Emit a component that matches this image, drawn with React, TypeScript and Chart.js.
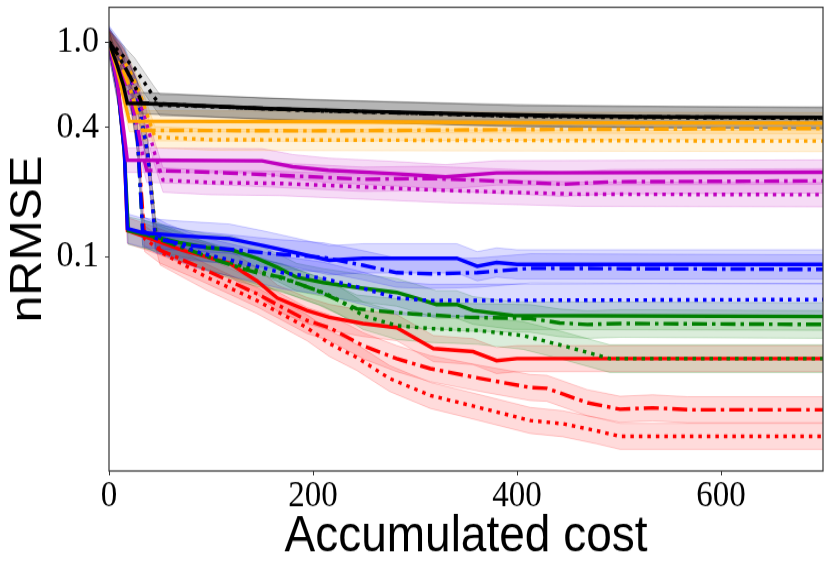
import React, { useEffect, useRef } from 'react';
import { Chart, registerables } from 'chart.js';

Chart.register(...registerables);

// axis ticks
const costTicks = [0, 200, 400, 600];
const nrmseTicks = [0.1, 0.4, 1.0];
const nrmseTickLabels = ['0.1', '0.4', '1.0'];

// [accumulated cost, nRMSE] pairs
const blackSolid = [[0, 1.0], [8, 0.78], [14, 0.63], [18, 0.518], [60, 0.512], [150, 0.49], [250, 0.475], [350, 0.462], [450, 0.452], [550, 0.447], [700, 0.445]];
const blackDashDot = [[0, 1.0], [10, 0.85], [20, 0.7], [27, 0.6], [32, 0.52], [100, 0.5], [200, 0.48], [300, 0.465], [400, 0.452], [700, 0.442]];
const blackDotted = [[0, 1.0], [6, 0.945], [15, 0.848], [25, 0.754], [35, 0.642], [43, 0.564], [50, 0.507], [100, 0.5], [200, 0.478], [300, 0.465], [400, 0.45], [500, 0.445], [700, 0.44]];

const orangeSolid = [[0, 1.0], [8, 0.74], [14, 0.56], [20, 0.427], [200, 0.425], [400, 0.42], [700, 0.418]];
const orangeDashDot = [[0, 1.0], [10, 0.82], [20, 0.62], [27, 0.48], [33, 0.387], [200, 0.385], [400, 0.39], [700, 0.395]];
const orangeDotted = [[0, 1.0], [10, 0.87], [20, 0.74], [30, 0.58], [38, 0.45], [45, 0.36], [100, 0.35], [300, 0.348], [700, 0.345]];

const magentaSolid = [[0, 1.0], [8, 0.65], [14, 0.4], [18, 0.281], [150, 0.279], [180, 0.262], [215, 0.252], [280, 0.243], [330, 0.235], [380, 0.245], [700, 0.247]];
const magentaDashDot = [[0, 1.0], [10, 0.8], [20, 0.58], [28, 0.4], [33, 0.3], [37, 0.252], [100, 0.247], [167, 0.239], [249, 0.229], [315, 0.231], [396, 0.223], [445, 0.217], [494, 0.223], [700, 0.225]];
const magentaDotted = [[0, 1.0], [12, 0.85], [25, 0.62], [35, 0.45], [45, 0.3], [53, 0.227], [100, 0.221], [167, 0.219], [331, 0.203], [462, 0.195], [700, 0.194]];

const blueSolid = [[0, 1.0], [9, 0.59], [15, 0.31], [18, 0.135], [33, 0.129], [69, 0.125], [118, 0.121], [151, 0.1125], [187, 0.103], [216, 0.096], [249, 0.098], [341, 0.098], [361, 0.09], [380, 0.0937], [400, 0.0918], [700, 0.0918]];
const blueDashDot = [[0, 1.0], [12, 0.8], [22, 0.55], [28, 0.35], [33, 0.132], [47, 0.121], [79, 0.1125], [118, 0.108], [160, 0.103], [210, 0.099], [249, 0.091], [282, 0.084], [315, 0.083], [361, 0.084], [413, 0.088], [700, 0.087]];
const blueDotted = [[0, 1.0], [15, 0.8], [28, 0.55], [38, 0.3], [45, 0.128], [57, 0.119], [89, 0.104], [128, 0.094], [170, 0.084], [210, 0.079], [249, 0.071], [282, 0.064], [315, 0.0623], [700, 0.063]];

const greenSolid = [[0, 1.0], [9, 0.59], [15, 0.31], [19, 0.132], [69, 0.116], [96, 0.11], [121, 0.107], [145, 0.098], [165, 0.089], [184, 0.08], [210, 0.0756], [243, 0.0717], [282, 0.068], [302, 0.0637], [321, 0.0597], [341, 0.0597], [357, 0.056], [396, 0.053], [700, 0.0525]];
const greenDashDot = [[0, 1.0], [12, 0.8], [22, 0.55], [28, 0.35], [33, 0.128], [66, 0.1125], [112, 0.094], [130, 0.088], [145, 0.084], [169, 0.08], [205, 0.069], [243, 0.057], [259, 0.056], [298, 0.054], [354, 0.052], [413, 0.0514], [442, 0.049], [469, 0.0482], [501, 0.0487], [700, 0.0482]];
const greenDotted = [[0, 1.0], [15, 0.8], [28, 0.55], [38, 0.3], [46, 0.125], [89, 0.103], [145, 0.086], [177, 0.077], [210, 0.068], [226, 0.0623], [249, 0.053], [282, 0.0476], [315, 0.0461], [361, 0.0452], [406, 0.0428], [445, 0.0384], [491, 0.0334], [700, 0.0334]];

const redSolid = [[0, 1.0], [9, 0.59], [15, 0.31], [18, 0.132], [37, 0.123], [72, 0.107], [118, 0.093], [145, 0.077], [165, 0.064], [194, 0.056], [216, 0.052], [249, 0.0487], [282, 0.0466], [318, 0.0372], [357, 0.036], [380, 0.0327], [400, 0.0334], [700, 0.0334]];
const redDashDot = [[0, 1.0], [12, 0.8], [22, 0.55], [28, 0.35], [35, 0.121], [50, 0.107], [89, 0.089], [145, 0.067], [194, 0.0503], [216, 0.0466], [249, 0.0384], [282, 0.0334], [315, 0.03], [364, 0.027], [413, 0.0245], [429, 0.0243], [469, 0.0208], [501, 0.0194], [533, 0.0197], [567, 0.0193], [700, 0.0193]];
const redDotted = [[0, 1.0], [15, 0.8], [28, 0.55], [38, 0.3], [46, 0.125], [50, 0.105], [96, 0.08], [145, 0.0623], [194, 0.0466], [216, 0.0393], [243, 0.0338], [275, 0.027], [315, 0.0225], [364, 0.0197], [413, 0.0172], [445, 0.0166], [478, 0.0154], [501, 0.0145], [700, 0.0145]];

// spread of the shaded band (ratio of upper edge to mean)
const blackSpread = [1.12, 1.12, 1.12];
const orangeSpread = [1.12, 1.12, 1.12];
const magentaSpread = [1.14, 1.14, 1.14];
const blueSpread = [1.17, 1.17, 1.19];
const greenSpread = [1.16, 1.16, 1.16];
const redSpread = [1.15, 1.15, 1.15];

const groups = [
  { rgb: '0,0,0', alpha: 0.11, lines: [blackSolid, blackDashDot, blackDotted], spread: blackSpread },
  { rgb: '255,165,0', alpha: 0.14, lines: [orangeSolid, orangeDashDot, orangeDotted], spread: orangeSpread },
  { rgb: '191,0,191', alpha: 0.14, lines: [magentaSolid, magentaDashDot, magentaDotted], spread: magentaSpread },
  { rgb: '0,0,255', alpha: 0.14, lines: [blueSolid, blueDashDot, blueDotted], spread: blueSpread },
  { rgb: '0,128,0', alpha: 0.14, lines: [greenSolid, greenDashDot, greenDotted], spread: greenSpread },
  { rgb: '255,0,0', alpha: 0.14, lines: [redSolid, redDashDot, redDotted], spread: redSpread },
];
const dashes = [[], [15, 5, 3.5, 5], [3.5, 5]];

// the figure is slightly stretched vertically
const H = 518;
const STRETCH = 570 / H;

const framePlugin = {
  id: 'frame',
  afterDatasetsDraw(chart: any) {
    const { ctx, chartArea } = chart;
    ctx.save();
    ctx.strokeStyle = '#333';
    ctx.lineWidth = 1.2;
    ctx.strokeRect(chartArea.left, chartArea.top, chartArea.right - chartArea.left, chartArea.bottom - chartArea.top);
    ctx.restore();
  },
};

const App: React.FC = () => {
  const chartRef = useRef<HTMLCanvasElement>(null);

  useEffect(() => {
    if (!chartRef.current) return;
    const ctx = chartRef.current.getContext('2d');
    if (!ctx) return;

    const datasets: any[] = [];
    groups.forEach((g, gi) => {
      g.lines.forEach((line, li) => {
        datasets.push({
          data: line.map(([x, y]) => ({ x, y })),
          borderColor: `rgb(${g.rgb})`,
          borderWidth: 3.4,
          borderDash: dashes[li],
          borderCapStyle: 'butt',
          pointRadius: 0,
          fill: false,
          order: gi,
        });
      });
    });
    groups.forEach((g) => {
      g.lines.forEach((line, li) => {
        const s = g.spread[li];
        datasets.push({
          data: line.map(([x, y]) => ({ x, y: y * s })),
          borderColor: `rgba(${g.rgb},0.2)`,
          backgroundColor: `rgba(${g.rgb},${g.alpha})`,
          borderWidth: 1,
          pointRadius: 0,
          fill: '+1',
          order: 20,
        });
        datasets.push({
          data: line.map(([x, y]) => ({ x, y: y / s })),
          borderColor: `rgba(${g.rgb},0.2)`,
          borderWidth: 1,
          pointRadius: 0,
          fill: false,
          order: 20,
        });
      });
    });

    const chart = new Chart(ctx, {
      type: 'line',
      data: { datasets },
      plugins: [framePlugin],
      options: {
        animation: false,
        responsive: true,
        maintainAspectRatio: false,
        events: [],
        layout: { padding: { top: 6.6, right: 8, bottom: 0, left: 0 } },
        plugins: { legend: { display: false }, tooltip: { enabled: false } },
        scales: {
          x: {
            type: 'linear',
            min: 0,
            max: 700,
            afterBuildTicks: (s: any) => { s.ticks = costTicks.map((v) => ({ value: v })); },
            afterFit: (s: any) => { s.height = 90; s.paddingLeft = 0; s.paddingRight = 0; },
            grid: { drawOnChartArea: false, drawTicks: true, tickLength: 4, color: '#333', tickColor: '#333' },
            border: { display: false },
            ticks: { color: '#000', padding: 0, maxRotation: 0, font: { family: 'Liberation Serif', size: 33 } },
            title: {
              display: true,
              text: 'Accumulated cost',
              color: '#000',
              font: { family: 'Liberation Sans', size: 46 },
              padding: { top: 0, bottom: 2 },
            },
          },
          y: {
            type: 'logarithmic',
            min: 0.01,
            max: 1.45,
            afterBuildTicks: (s: any) => { s.ticks = nrmseTicks.map((v) => ({ value: v })); },
            afterFit: (s: any) => { s.width = 109; s.paddingTop = 0; s.paddingBottom = 0; },
            grid: { drawOnChartArea: false, drawTicks: true, tickLength: 4, color: '#333', tickColor: '#333' },
            border: { display: false },
            ticks: {
              color: '#000',
              padding: 6,
              font: { family: 'Liberation Serif', size: 34 },
              callback: (v: any) => {
                const i = nrmseTicks.indexOf(Number(v));
                return i >= 0 ? nrmseTickLabels[i] : '';
              },
            },
            title: {
              display: true,
              text: 'nRMSE',
              color: '#000',
              font: { family: 'Liberation Sans', size: 44 },
              padding: { top: 2, bottom: 0 },
            },
          },
        },
      },
    });

    return () => {
      chart.destroy();
    };
  }, []);

  return (
    <div style={{ position: 'fixed', left: 0, top: 0, width: 831, height: 570, overflow: 'hidden', background: '#fff' }}>
      <div style={{ width: 831, height: H, transform: `scaleY(${STRETCH})`, transformOrigin: '0 0' }}>
        <canvas ref={chartRef}></canvas>
      </div>
    </div>
  );
};

export default App;
